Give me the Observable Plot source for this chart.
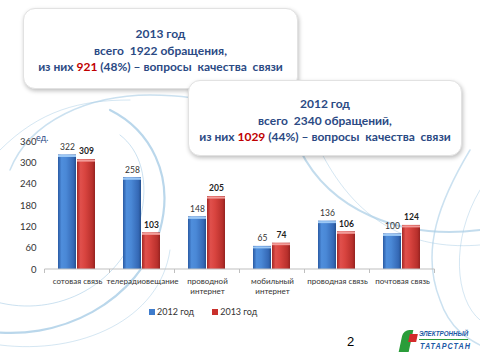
<!DOCTYPE html>
<html><head><meta charset="utf-8">
<script src="https://cdn.jsdelivr.net/npm/d3@7"></script>
<script src="https://cdn.jsdelivr.net/npm/@observablehq/plot@0.6"></script>
<style>
body{margin:0;width:480px;height:360px;overflow:hidden;background:#fff;font-family:Lato,"Open Sans",sans-serif;position:relative}
#bg{position:absolute;left:0;top:0}
#chart{position:absolute;left:0;top:125px}
.box{position:absolute;background:#fff;border-radius:12px;border:1px solid #e2e2e2;box-shadow:1px 2px 4px rgba(0,0,0,0.25);text-align:center;color:#2b4a84;font-weight:bold;font-size:12px;line-height:16.5px;box-sizing:border-box}
.red{color:#c00000}
#box1{left:23px;top:8px;width:275px;height:81px;padding-top:17px}
#box2{left:188px;top:80px;width:274px;height:76px;padding-top:15px}
#unit{position:absolute;left:36px;top:132px;font-size:9px;color:#2b4a84}
#legend{position:absolute;top:306px;left:149px;font-size:9px;color:#333;display:flex;gap:18px}
#legend span{display:inline-flex;align-items:center}
#legend i{display:inline-block;width:6px;height:6px;margin-right:2px}
#page{position:absolute;left:347px;top:334px;font-size:13px;color:#000;font-family:"Liberation Sans",sans-serif}
#logo{position:absolute;left:400px;top:326px;width:75px;height:30px}
#logo .t1{position:absolute;left:19px;top:3px;font:italic bold 8px "Liberation Sans",sans-serif;color:#1d5aa6;border-bottom:1px solid #2a9d3a;padding-bottom:1px;transform:scaleX(0.78);transform-origin:0 0;white-space:nowrap}
#logo .t2{position:absolute;left:20px;top:15px;font:italic bold 9px "Liberation Sans",sans-serif;color:#1d5aa6;letter-spacing:1.2px;transform:scaleX(0.8);transform-origin:0 0;white-space:nowrap}
#logo .g{position:absolute;left:1px;top:4px;width:10px;height:22px;background:#2a9d3a;border-radius:6px 0 0 0;transform:skewX(-12deg)}
#logo .r{position:absolute;left:9px;top:8px;width:8px;height:8px;background:#d32b2b;transform:skewX(-12deg)}
</style></head>
<body>
<svg id="bg" width="480" height="360">
  <g fill="none" stroke="#a9cde6" stroke-linecap="round">
    <path d="M-20,330 C60,345 140,300 160,230 C175,175 150,130 110,110" stroke-width="2.2" opacity="0.8"/>
    <path d="M-10,300 C50,320 120,290 140,220 C150,180 140,150 120,135" stroke-width="1" opacity="0.6"/>
    <path d="M0,345 C80,355 160,320 170,250" stroke-width="1" opacity="0.5"/>
    <path d="M10,170 C30,120 90,95 150,95 C210,95 250,110 260,140" stroke-width="1.5" opacity="0.6"/>
    <path d="M0,150 C40,110 80,100 130,100" stroke-width="1" opacity="0.5"/>
    <path d="M300,150 C330,210 400,240 480,230" stroke-width="2" opacity="0.7"/>
    <path d="M320,150 C360,230 420,250 480,245" stroke-width="1" opacity="0.5"/>
    <path d="M470,150 C440,200 420,250 440,300 C450,330 470,340 480,345" stroke-width="1.5" opacity="0.6"/>
    <path d="M480,190 C450,240 455,300 480,320" stroke-width="1" opacity="0.5"/>
  </g>
</svg>
<div id="chart"></div>
<div class="box" id="box1">2013 год<br>всего&nbsp; 1922 обращения,<br>из них <span class="red">921</span> (48%) – вопросы&nbsp; качества&nbsp; связи</div>
<div class="box" id="box2">2012 год<br>всего&nbsp; 2340 обращений,<br>из них <span class="red">1029</span> (44%) – вопросы&nbsp; качества&nbsp; связи</div>
<div id="unit">ед.</div>
<div id="legend"><span><i style="background:#3f7ccc"></i>2012 год</span><span><i style="background:#c9302c"></i>2013 год</span></div>
<div id="page">2</div>
<div id="logo"><div class="g"></div><div class="r"></div><div class="t1">ЭЛЕКТРОННЫЙ</div><div class="t2">ТАТАРСТАН</div></div>
<script>
const categories = ["сотовая связь","телерадиовещание","проводной\nинтернет","мобильный\nинтернет","проводная связь","почтовая связь"];
const years = ["2012 год","2013 год"];
const values2012 = [322,258,148,65,136,100];
const values2013 = [309,103,205,74,106,124];
const yTicks = [0,60,120,180,240,300,360];

const data = [];
categories.forEach((c,i)=>{
  data.push({category:c, year:years[0], value:values2012[i]});
  data.push({category:c, year:years[1], value:values2013[i]});
});
const d12 = data.filter(d=>d.year===years[0]);
const d13 = data.filter(d=>d.year===years[1]);

const chart = Plot.plot({
  width:480, height:175,
  marginLeft:42, marginRight:43, marginTop:16, marginBottom:31,
  style:{fontFamily:"Lato, 'Open Sans', sans-serif", fontSize:"9px", color:"#333", background:"transparent", overflow:"visible"},
  fx:{domain:categories, paddingInner:0.41, paddingOuter:0.205, label:null},
  x:{domain:years, axis:null, paddingInner:0.03, paddingOuter:0},
  y:{domain:[0,360], axis:null},
  color:{domain:years, range:["url(#gBlue)","url(#gRed)"]},
  marks:[
    Plot.axisY({ticks:yTicks, tickSize:0, tickPadding:22, label:null, fontSize:9.5, color:"#333"}),
    Plot.axisFx({anchor:"bottom", tickSize:0, tickPadding:8, label:null, fontSize:8, lineHeight:1.2, color:"#333"}),
    Plot.barY(data,{fx:"category", x:"year", y:"value", fill:"year"}),
    Plot.tickY(d12,{fx:"category", x:"year", y:"value", stroke:"#9cc8f5", strokeWidth:2, dy:1}),
    Plot.tickY(d13,{fx:"category", x:"year", y:"value", stroke:"#f29c99", strokeWidth:2, dy:1}),
    Plot.text(d12,{fx:"category", x:"year", y:"value", text:d=>String(d.value), dy:-8, fontSize:8.5, fill:"#333"}),
    Plot.text(d13,{fx:"category", x:"year", y:"value", text:d=>String(d.value), dy:-8, fontSize:8.5, fontWeight:"bold", fill:"#222"})
  ]
});
document.getElementById("chart").appendChild(chart);

const svg = d3.select(chart);
const defs = svg.insert("defs",":first-child");
function grad(id, stops){
  const g = defs.append("linearGradient").attr("id",id).attr("x1","0").attr("x2","1").attr("y1","0").attr("y2","0");
  stops.forEach(([o,c])=>g.append("stop").attr("offset",o).attr("stop-color",c));
}
grad("gBlue",[[0,"#2a5aa3"],[0.2,"#4f8edc"],[0.45,"#4a88d6"],[0.85,"#3569b6"],[1,"#24508f"]]);
grad("gRed",[[0,"#a52724"],[0.2,"#e0504c"],[0.45,"#d8443f"],[0.85,"#b8302c"],[1,"#952220"]]);

// baseline and category separators from the library's scales
const fx = chart.scale("fx"), y = chart.scale("y");
const y0 = y.apply(0);
const gap = (fx.step - fx.bandwidth)/2;
const bounds = categories.map(c=>fx.apply(c)-gap);
bounds.push(fx.apply(categories[categories.length-1]) + fx.bandwidth + gap);
const axisG = svg.append("g").attr("stroke","#bfbfbf");
axisG.append("line").attr("x1",bounds[0]).attr("x2",bounds[bounds.length-1]).attr("y1",y0).attr("y2",y0);
bounds.forEach(b=>axisG.append("line").attr("x1",b).attr("x2",b).attr("y1",y0).attr("y2",y0+4));
</script>
</body></html>
